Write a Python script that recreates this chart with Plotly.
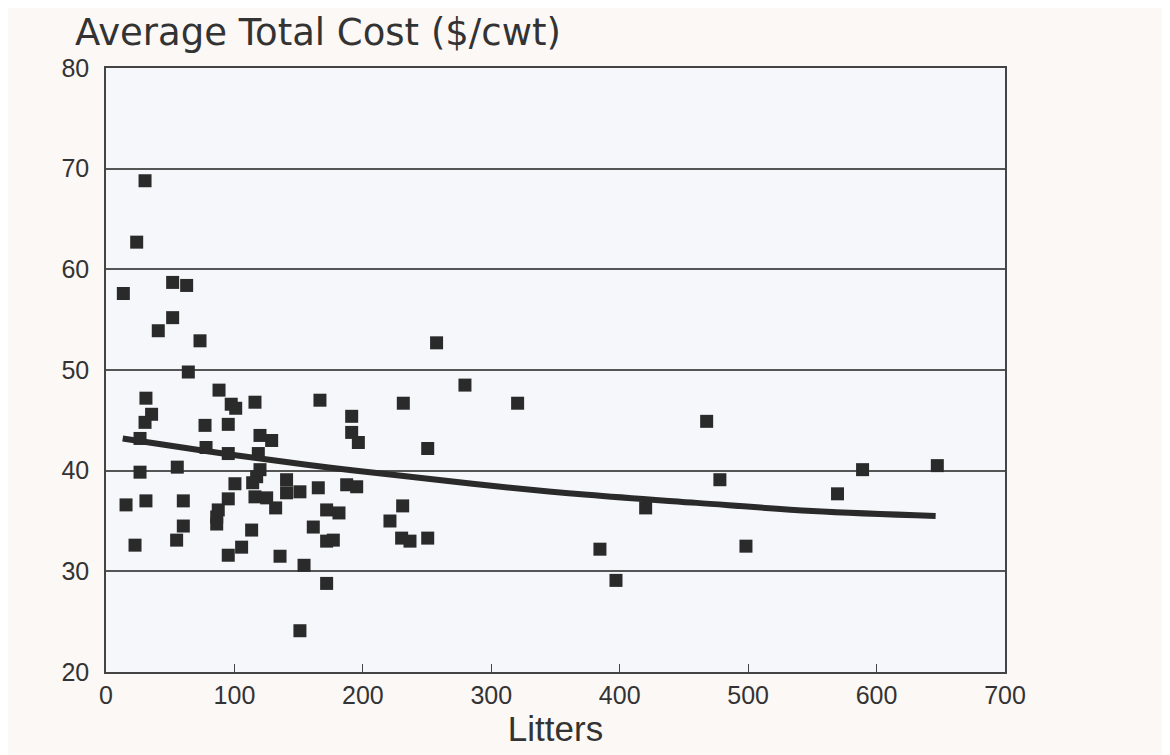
import plotly.graph_objects as go

# Scatter data: litters vs average total cost ($/cwt)
litters = [30.4, 23.9, 13.5, 51.9, 62.8, 51.9, 40.7, 73.2, 64.1, 257.4,
           279.5, 231.5, 320.5, 250.5, 231.0, 221.1, 230.2, 236.7, 250.5,
           420.2, 384.6, 397.1, 467.7, 478.0, 498.3, 569.6, 589.1, 647.3,
           31.1, 88.0, 97.5, 101.0, 116.0, 166.6, 35.5, 30.4, 77.1, 95.2,
           191.3, 191.3, 196.5, 119.9, 129.0, 26.5, 77.9, 95.2, 118.6,
           26.5, 55.5, 119.9, 117.3, 114.2, 100.4, 140.6, 140.6, 151.0,
           165.3, 187.4, 195.2, 15.6, 31.1, 60.2, 95.2, 116.0, 125.1,
           132.1, 87.4, 86.2, 86.2, 171.8, 181.4, 60.2, 55.0, 113.4,
           161.4, 171.8, 177.0, 22.6, 95.2, 105.6, 135.5, 154.2, 171.8,
           151.0]
cost = [68.8, 62.7, 57.6, 58.7, 58.4, 55.2, 53.9, 52.9, 49.8, 52.7,
        48.5, 46.7, 46.7, 42.2, 36.5, 35.0, 33.3, 33.0, 33.3,
        36.3, 32.2, 29.1, 44.9, 39.1, 32.5, 37.7, 40.1, 40.5,
        47.2, 48.0, 46.6, 46.2, 46.8, 47.0, 45.6, 44.8, 44.5, 44.6,
        45.4, 43.8, 42.8, 43.5, 43.0, 43.2, 42.3, 41.7, 41.7,
        39.85, 40.35, 40.1, 39.4, 38.8, 38.7, 39.1, 37.8, 37.9,
        38.3, 38.6, 38.4, 36.6, 37.0, 37.0, 37.2, 37.4, 37.3,
        36.3, 36.1, 35.4, 34.7, 36.1, 35.8, 34.5, 33.1, 34.1,
        34.4, 33.0, 33.1, 32.6, 31.6, 32.4, 31.5, 30.6, 28.8,
        24.1]

# Fitted curve
fit_x = [13, 75, 120, 175, 230, 300, 375, 460, 550, 646]
fit_y = [43.2, 42.0, 41.2, 40.3, 39.5, 38.5, 37.6, 36.8, 36.0, 35.5]

x_ticks = [0, 100, 200, 300, 400, 500, 600, 700]
y_ticks = [20, 30, 40, 50, 60, 70, 80]

FONT = "Liberation Sans, Arial, sans-serif"
TITLE_FONT = "DejaVu Sans, Verdana, sans-serif"
INK = "#2a2a2a"
TXT = "#333333"

W, H = 1162, 747  # page body adds 8px margin

fig = go.Figure()
fig.add_trace(go.Scatter(
    x=litters, y=cost, mode="markers",
    marker=dict(symbol="square", size=13, color=INK, line=dict(width=0)),
    showlegend=False, hoverinfo="x+y"))
fig.add_trace(go.Scatter(
    x=fit_x, y=fit_y, mode="lines", line=dict(color=INK, width=6, shape="spline"),
    showlegend=False, hoverinfo="skip"))

fig.update_layout(
    width=W, height=H,
    margin=dict(l=98, r=165, t=60, b=83),
    paper_bgcolor="#fcf8f6",
    plot_bgcolor="#f5f7fa",
    font=dict(family=FONT, color=TXT),
    title=dict(text="Average Total Cost ($/cwt)", x=67/W, xanchor="left",
               y=1 - 24/H, yanchor="middle",
               font=dict(size=37, family=TITLE_FONT, color=TXT)),
)
fig.update_xaxes(
    range=[0, 700], tickvals=x_ticks, ticktext=[str(v) for v in x_ticks],
    ticks="inside", ticklen=8, tickwidth=1.2, tickcolor="#444",
    showgrid=False, zeroline=False,
    showline=True, linecolor="#444", linewidth=1.5, mirror=True,
    tickfont=dict(size=25, family=FONT, color=TXT),
    title=dict(text="Litters", font=dict(size=35, family=FONT, color=TXT), standoff=6),
)
fig.update_yaxes(
    range=[20, 80], tickvals=y_ticks, ticktext=[str(v) for v in y_ticks],
    ticks="", showgrid=True, gridcolor="#555", gridwidth=1.5, zeroline=False,
    showline=True, linecolor="#444", linewidth=1.5, mirror=True,
    tickfont=dict(size=25, family=FONT, color=TXT),
    ticklabelstandoff=10,
)

fig.write_html("out.html")
